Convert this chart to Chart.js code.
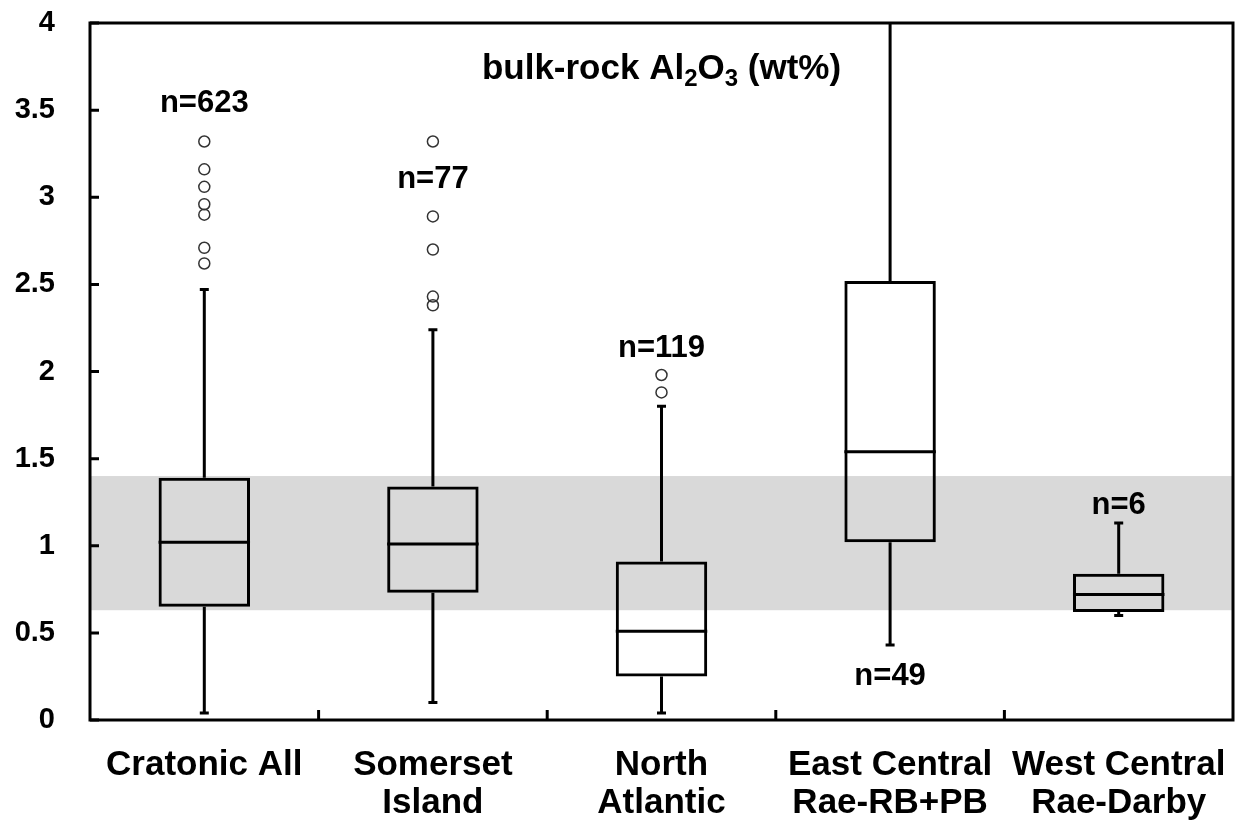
<!DOCTYPE html>
<html>
<head>
<meta charset="utf-8">
<script src="https://cdn.jsdelivr.net/npm/chart.js@4/dist/chart.umd.min.js"></script>
<style>
  html, body { margin: 0; padding: 0; background: #fff; }
  #wrap { width: 1244px; height: 827px; }
</style>
</head>
<body>
<div id="wrap"><canvas id="boxChart" width="1244" height="827"></canvas></div>
<script>
// groups on the x axis
const groups = ["Cratonic All", ["Somerset", "Island"], ["North", "Atlantic"],
                ["East Central", "Rae-RB+PB"], ["West Central", "Rae-Darby"]];

// box statistics, bulk-rock Al2O3 wt%
const whiskerLow  = [0.04, 0.10, 0.04, 0.43, 0.60];
const q1          = [0.65, 0.73, 0.25, 1.02, 0.62];
const median      = [1.02, 1.01, 0.51, 1.54, 0.72];
const q3          = [1.39, 1.34, 0.91, 2.52, 0.84];
const whiskerHigh = [2.47, 2.24, 1.80, 4.60, 1.13];

// outliers per group
const outliers = [
    [3.32, 3.16, 3.06, 2.96, 2.90, 2.71, 2.62],
    [3.32, 2.89, 2.70, 2.43, 2.38],
    [1.98, 1.88],
    [],
    []
];

// sample counts and where their label sits (wt%)
const counts = [623, 77, 119, 49, 6];
const countLabelAt = [3.54, 3.10, 2.13, 0.25, 1.23];

// shaded reference range
const bandLow = 0.63;
const bandHigh = 1.40;

const yTicks = [0, 0.5, 1, 1.5, 2, 2.5, 3, 3.5, 4];

const FONT = "'Liberation Sans', Arial, sans-serif";

// extra drawing: band, whiskers, medians, n labels, frame and title
const boxDecor = {
    id: "boxDecor",
    beforeDatasetsDraw(chart) {
        let ctx = chart.ctx, a = chart.chartArea, y = chart.scales.y;
        ctx.save();
        ctx.fillStyle = "#d9d9d9";
        let top = y.getPixelForValue(bandHigh);
        let bot = y.getPixelForValue(bandLow);
        ctx.fillRect(a.left, top, a.right - a.left, bot - top);
        ctx.restore();
    },
    afterDatasetsDraw(chart) {
        let ctx = chart.ctx, a = chart.chartArea, y = chart.scales.y;
        let bars = chart.getDatasetMeta(0).data;
        ctx.save();
        ctx.beginPath();
        ctx.rect(a.left, a.top, a.right - a.left, a.bottom - a.top);
        ctx.clip();
        ctx.strokeStyle = "#000";
        ctx.lineWidth = 3;
        bars.forEach((bar, i) => {
            let cx = bar.x, half = bar.width / 2;
            let yLo = y.getPixelForValue(whiskerLow[i]);
            let yQ1 = y.getPixelForValue(q1[i]);
            let yQ3 = y.getPixelForValue(q3[i]);
            let yHi = y.getPixelForValue(whiskerHigh[i]);
            let yMed = y.getPixelForValue(median[i]);
            ctx.beginPath();
            ctx.moveTo(cx, yQ1); ctx.lineTo(cx, yLo);
            ctx.moveTo(cx, yQ3); ctx.lineTo(cx, yHi);
            // caps
            ctx.moveTo(cx - 4.5, yLo); ctx.lineTo(cx + 4.5, yLo);
            ctx.moveTo(cx - 4.5, yHi); ctx.lineTo(cx + 4.5, yHi);
            // median
            ctx.moveTo(cx - half, yMed); ctx.lineTo(cx + half, yMed);
            ctx.stroke();
        });
        ctx.restore();

        ctx.save();
        ctx.fillStyle = "#000";
        ctx.font = "bold 31px " + FONT;
        ctx.textAlign = "center";
        ctx.textBaseline = "middle";
        bars.forEach((bar, i) => {
            ctx.fillText("n=" + counts[i], bar.x, y.getPixelForValue(countLabelAt[i]));
        });
        ctx.restore();
    },
    afterDraw(chart) {
        let ctx = chart.ctx, a = chart.chartArea, x = chart.scales.x, y = chart.scales.y;
        ctx.save();
        ctx.strokeStyle = "#000";
        ctx.lineWidth = 3;
        ctx.strokeRect(a.left, a.top, a.right - a.left, a.bottom - a.top);
        ctx.beginPath();
        // y ticks point inward
        yTicks.forEach(v => {
            let py = y.getPixelForValue(v);
            ctx.moveTo(a.left, py); ctx.lineTo(a.left + 9, py);
        });
        // x ticks between groups
        for (let i = 1; i < groups.length; i++) {
            let px = (x.getPixelForValue(i - 1) + x.getPixelForValue(i)) / 2;
            ctx.moveTo(px, a.bottom); ctx.lineTo(px, a.bottom - 10);
        }
        ctx.stroke();

        // title with subscripts
        let parts = [["bulk-rock Al", 0], ["2", 1], ["O", 0], ["3", 1], [" (wt%)", 0]];
        let big = "bold 35px " + FONT, small = "bold 24px " + FONT;
        let total = 0;
        parts.forEach(p => { ctx.font = p[1] ? small : big; total += ctx.measureText(p[0]).width; });
        let tx = (a.left + a.right) / 2 - total / 2;
        let ty = a.top + 56;
        ctx.fillStyle = "#000";
        ctx.textBaseline = "alphabetic";
        ctx.textAlign = "left";
        parts.forEach(p => {
            ctx.font = p[1] ? small : big;
            ctx.fillText(p[0], tx, p[1] ? ty + 7 : ty);
            tx += ctx.measureText(p[0]).width;
        });
        ctx.restore();
    }
};

// one point dataset per outlier rank, indexed by group
const outlierSets = [];
let maxOut = Math.max(...outliers.map(o => o.length));
for (let k = 0; k < maxOut; k++) {
    outlierSets.push({
        type: "line",
        label: "outliers " + (k + 1),
        data: outliers.map(o => (k < o.length ? o[k] : null)),
        showLine: false,
        pointStyle: "circle",
        pointRadius: 5.5,
        pointBorderWidth: 1.5,
        pointBorderColor: "#333",
        pointBackgroundColor: "rgba(255,255,255,0)",
        order: 1
    });
}

new Chart(document.getElementById("boxChart"), {
    type: "bar",
    data: {
        labels: groups,
        datasets: [
            {
                label: "box",
                data: q1.map((lo, i) => [lo, q3[i]]),
                backgroundColor: "rgba(0,0,0,0)",
                borderColor: "#000",
                borderWidth: 3,
                borderSkipped: false,
                barPercentage: 0.4,
                categoryPercentage: 1.0,
                grouped: false,
                order: 2
            },
            ...outlierSets
        ]
    },
    options: {
        responsive: false,
        animation: false,
        layout: { padding: { top: 23, right: 11, left: 0, bottom: 0 } },
        plugins: {
            legend: { display: false },
            tooltip: { enabled: false },
            title: { display: false }
        },
        scales: {
            x: {
                type: "category",
                offset: true,
                grid: { display: false, drawTicks: false },
                border: { display: false },
                ticks: {
                    color: "#000",
                    padding: 26,
                    maxRotation: 0,
                    autoSkip: false,
                    font: { family: FONT, size: 35, weight: "bold", lineHeight: 1.1 }
                },
                afterFit(s) {
                    s.height = 107;
                    s.paddingLeft = 0;
                    s.paddingRight = 0;
                }
            },
            y: {
                min: 0,
                max: 4,
                grid: { display: false, drawTicks: false },
                border: { display: false },
                ticks: {
                    stepSize: 0.5,
                    color: "#000",
                    padding: 35,
                    font: { family: FONT, size: 29, weight: "bold" },
                    callback: v => String(v)
                },
                afterFit(s) {
                    s.width = 90;
                    s.paddingTop = 0;
                    s.paddingBottom = 0;
                }
            }
        }
    },
    plugins: [boxDecor]
});
</script>
</body>
</html>
